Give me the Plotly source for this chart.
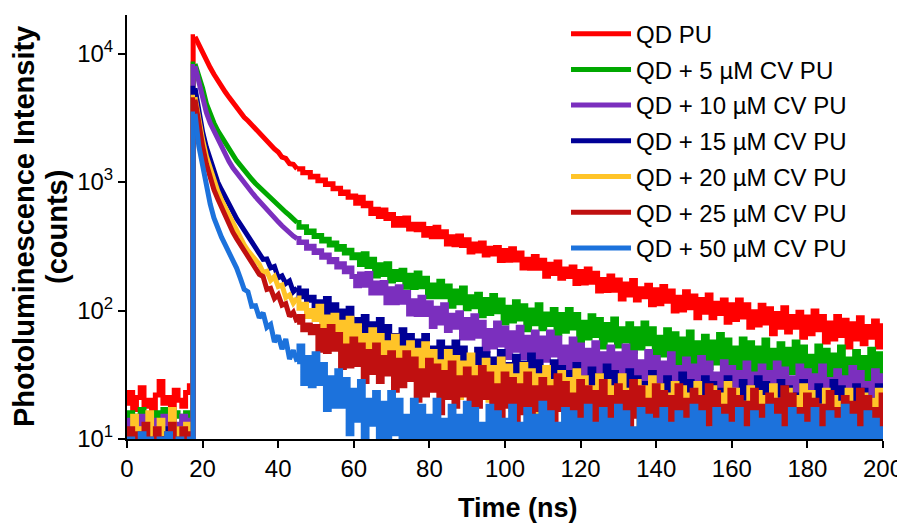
import plotly.graph_objects as go

# ---------------- data ----------------
time_ns = list(range(0, 201))  # 1 ns channels, 0..200 ns

series_names = [
    "QD PU",
    "QD + 5 µM CV PU",
    "QD + 10 µM CV PU",
    "QD + 15 µM CV PU",
    "QD + 20 µM CV PU",
    "QD + 25 µM CV PU",
    "QD + 50 µM CV PU",
]
series_colors = ["#ff0000", "#00a800", "#7b2fbe", "#000096", "#ffc428", "#c01010", "#1c72dc"]

qd_pu = [
    19, 23, 17, 21, 25, 18, 20, 16, 22, 28, 19, 21, 17, 24, 20, 18, 23, 26,
    13500, 11700, 10050, 8700, 7780, 6900, 6120, 5490, 5020, 4560,
    4130, 3750, 3480, 3190, 3000, 2780, 2610, 2390, 2250, 2080,
    1960, 1810, 1710,
    1560, 1525, 1390, 1375, 1265, 1270, 1180, 1185, 1095, 1110,
    1025, 1035, 955, 970, 885, 895, 815, 835, 760, 780,
    685, 760, 655, 685, 570, 615, 540, 605, 520, 560,
    460, 520, 460, 525, 430, 470, 425, 470, 385, 435,
    375, 445, 375, 410, 330, 375, 325, 380, 320, 355,
    285, 330, 290, 335, 270, 305, 275, 310, 245, 293,
    246, 302, 247, 280, 214, 251, 213, 263, 213, 246,
    185, 229, 194, 239, 178, 210, 184, 218, 162, 201,
    164, 210, 166, 195, 142, 174, 143, 186, 144, 173,
    123, 161, 132, 171, 121, 148, 128, 157, 111, 145,
    113, 154, 118, 142, 99, 127, 101, 140, 105, 130,
    88, 122, 97, 132, 88, 114, 95, 121, 81, 111,
    85, 121, 89, 111, 74, 98, 77, 110, 80, 103,
    66, 95, 74, 105, 68, 90, 74, 97, 62, 89,
    66, 99, 71, 90, 57, 80, 60, 90, 64, 84,
    52, 79, 60, 88, 55, 75, 62, 83, 52, 76,
]

cv5 = [
    14, 16, 13, 15, 17, 12, 15, 14, 16, 13, 17, 14, 12, 16, 15, 13, 16, 15,
    8300, 6760, 5370, 4070, 3390, 2880, 2510, 2240, 2000, 1800,
    1620, 1465, 1350, 1230, 1135, 1050, 975, 912, 850, 795,
    740, 700, 660, 617, 582, 550, 513, 484,
    445, 448, 405, 415, 377, 384, 348, 358, 323, 335, 300, 315, 280, 295, 258,
    272, 228, 276, 220, 251, 186, 227, 191, 231, 170,
    201, 174, 206, 152, 188, 151, 196, 153, 178, 128,
    158, 128, 169, 128, 155, 108, 142, 115, 150, 103,
    128, 107, 134, 91, 122, 95, 131, 98, 121, 80,
    106, 83, 117, 86, 109, 71, 101, 79, 111, 72,
    94, 78, 102, 66, 93, 69, 102, 73, 93, 58,
    81, 61, 91, 64, 85, 52, 78, 59, 86, 53,
    72, 58, 79, 48, 72, 51, 80, 55, 72, 42,
    62, 45, 71, 48, 66, 37, 60, 44, 68, 38,
    56, 44, 63, 36, 57, 39, 65, 43, 59, 33,
    51, 36, 60, 39, 56, 30, 51, 37, 59, 32,
    49, 38, 55, 30, 50, 33, 57, 37, 52, 27,
    44, 30, 53, 33, 49, 25, 45, 31, 52, 27,
    42, 32, 48, 25, 43, 28, 50, 32, 46, 23,
]

cv10 = [
    12, 14, 11, 13, 15, 12, 10, 14, 13, 11, 15, 12, 14, 11, 13, 15, 12, 14,
    7940, 6030, 4470, 3470, 2880, 2510, 2090, 1860, 1620, 1445,
    1290, 1175, 1072, 977, 902, 832, 767, 708, 653, 603,
    562, 525, 490, 457, 427, 403, 380, 363,
    338, 342, 305, 316, 283, 292, 260, 270, 240, 250, 218, 231, 200, 214, 184,
    156, 192, 157, 194, 137, 164, 137, 165, 115, 148,
    115, 153, 116, 138, 94, 119, 93, 127, 93, 115,
    75, 104, 80, 111, 70, 92, 74, 96, 61, 85,
    61, 91, 63, 81, 49, 70, 52, 80, 54, 73,
    43, 67, 49, 74, 43, 62, 48, 68, 39, 61,
    41, 68, 45, 61, 33, 52, 36, 60, 38, 54,
    28, 49, 35, 56, 30, 46, 35, 52, 27, 46,
    30, 53, 34, 47, 24, 40, 26, 48, 29, 43,
    21, 39, 26, 46, 22, 36, 27, 42, 20, 37,
    23, 43, 26, 39, 18, 32, 20, 40, 23, 36,
    16, 33, 21, 39, 18, 32, 23, 37, 17, 33,
    20, 39, 23, 35, 16, 30, 18, 37, 21, 34,
    14, 31, 19, 37, 17, 29, 21, 34, 15, 30,
    18, 36, 21, 33, 14, 27, 16, 34, 19, 31,
]

cv15 = [
    11, 10, 12, 9, 11, 10, 12, 11, 9, 10, 12, 10, 11, 9, 12, 10, 11, 10,
    5370, 3550, 2455, 1862, 1479, 1202, 1000, 871, 759, 661,
    582, 519, 468, 422, 380, 343, 313, 285,
    250, 252, 215, 220, 180, 186, 162, 170, 140, 150, 128, 142, 120, 127, 105,
    117, 90, 124, 89, 111, 71, 99, 75, 104, 65,
    85, 69, 90, 55, 79, 56, 85, 59, 75, 44,
    64, 46, 71, 47, 64, 35, 58, 41, 64, 35,
    51, 40, 57, 31, 51, 33, 57, 37, 51, 26,
    43, 29, 50, 31, 46, 23, 42, 28, 48, 24,
    38, 29, 44, 21, 39, 24, 45, 27, 40, 18,
    33, 21, 40, 23, 36, 16, 33, 21, 38, 18,
    30, 22, 35, 16, 31, 18, 37, 21, 33, 14,
    27, 16, 34, 18, 30, 12, 27, 17, 33, 14,
    26, 18, 30, 13, 27, 15, 32, 18, 28, 11,
    23, 13, 30, 16, 27, 10, 24, 14, 30, 12,
    23, 16, 28, 11, 24, 13, 30, 16, 27, 10,
    22, 12, 28, 14, 25, 9, 22, 13, 28, 11,
    22, 15, 26, 10, 23, 12, 28, 15, 25, 9,
    20, 11, 26, 13, 24, 8, 20, 12, 26, 10,
]

cv20 = [
    11, 9, 15, 10, 12, 8, 16, 10, 9, 14, 11, 10, 17, 9, 12, 10, 13, 11,
    4570, 2950, 2140, 1585, 1260, 1023, 851, 724, 631, 550,
    468, 407, 363, 324, 292, 269, 248, 229,
    198, 202, 172, 184, 154, 158, 126, 132, 114, 125, 104, 112, 90, 100, 85,
    108, 68, 89, 71, 92, 57, 81, 57, 87, 60,
    76, 45, 64, 46, 71, 47, 64, 35, 56, 40,
    63, 34, 51, 39, 56, 30, 49, 31, 55, 34,
    48, 25, 40, 27, 48, 29, 43, 21, 39, 26,
    45, 22, 36, 26, 41, 20, 36, 22, 42, 25,
    37, 17, 31, 19, 38, 21, 34, 14, 31, 19,
    36, 16, 28, 20, 33, 14, 29, 16, 34, 19,
    30, 12, 25, 15, 31, 17, 28, 11, 25, 15,
    31, 13, 24, 16, 28, 11, 25, 13, 30, 16,
    26, 10, 22, 12, 27, 14, 25, 9, 22, 13,
    27, 11, 21, 14, 25, 10, 22, 12, 27, 15,
    24, 9, 19, 11, 25, 13, 23, 8, 21, 12,
    26, 10, 20, 13, 24, 9, 21, 11, 26, 13,
    23, 8, 18, 10, 24, 12, 21, 7, 19, 11,
    24, 9, 18, 12, 22, 8, 20, 10, 24, 12,
]

cv25 = [
    10, 12, 9, 11, 8, 13, 10, 9, 12, 10, 8, 11, 13, 9, 10, 12, 9, 11,
    4370, 2750, 1905, 1380, 1072, 871, 741, 631, 537, 468,
    407, 363, 324, 292, 263, 240, 214, 191,
    184, 146, 149, 124, 133, 110, 113, 90, 97, 81, 90, 71, 77, 67, 75,
    49, 70, 48, 75, 50, 65, 36, 53, 37, 60,
    38, 54, 28, 48, 33, 54, 28, 43, 32, 47,
    24, 41, 26, 47, 29, 42, 20, 34, 22, 41,
    24, 37, 16, 33, 21, 39, 18, 30, 22, 35,
    15, 30, 18, 36, 21, 32, 13, 26, 15, 32,
    18, 29, 11, 26, 16, 32, 13, 25, 17, 29,
    12, 25, 14, 31, 17, 27, 10, 22, 12, 28,
    14, 25, 9, 23, 13, 28, 11, 21, 14, 26,
    9, 23, 12, 28, 15, 25, 8, 20, 11, 26,
    13, 23, 7, 21, 12, 26, 9, 20, 13, 24,
    8, 21, 11, 26, 13, 23, 7, 18, 10, 24,
    12, 21, 7, 19, 11, 24, 9, 18, 12, 22,
    7, 20, 10, 25, 12, 22, 7, 17, 9, 22,
    11, 20, 6, 18, 10, 23, 8, 17, 11, 21,
    7, 19, 9, 24, 12, 21, 6, 17, 9, 22,
]

cv50 = [
    9, 10, 8, 9, 11, 8, 10, 9, 8, 10, 9, 11, 8, 9, 10, 8, 9, 10,
    3390, 1905, 1349, 912, 676, 525, 437, 372, 324, 282, 251, 214, 178,
    146, 140, 108, 109, 88, 96, 74, 78, 57, 64, 50, 60, 42, 49, 40,
    53, 27, 43, 26, 46,
    27, 38, 17, 30, 18, 34, 18, 29, 11, 24,
    14, 28, 10, 20, 13, 23, 8, 19, 9, 23,
    11, 20, 5, 15, 7, 20, 9, 18, 4, 15,
    7, 20, 5, 14, 9, 18, 5, 15, 6, 19,
    9, 17, 4, 13, 6, 18, 8, 16, 4, 14,
    7, 18, 5, 13, 8, 17, 4, 15, 6, 19,
    9, 16, 4, 13, 6, 17, 7, 16, 3, 14,
    7, 18, 5, 13, 8, 17, 4, 14, 6, 18,
    8, 16, 4, 12, 6, 17, 7, 15, 3, 14,
    7, 17, 5, 13, 8, 16, 4, 14, 6, 18,
    8, 16, 4, 12, 6, 17, 7, 15, 3, 13,
    7, 17, 5, 12, 8, 16, 4, 14, 6, 18,
    8, 15, 4, 12, 5, 17, 7, 15, 3, 13,
    6, 17, 5, 12, 8, 16, 4, 14, 6, 18,
    8, 15, 4, 12, 5, 16, 7, 14, 3, 12,
]

y_tick_values = [10, 100, 1000, 10000]
y_tick_labels = ["10<sup>1</sup>", "10<sup>2</sup>", "10<sup>3</sup>", "10<sup>4</sup>"]
x_tick_values = list(range(0, 201, 20))

all_series = [qd_pu, cv5, cv10, cv15, cv20, cv25, cv50]

# Each decay is drawn in three pieces of the same array: the pre-pulse
# baseline and rise as channel steps, the smooth early decay as a line, and
# the noisy tail as channel steps (which renders as a dense noisy band).
segments = [(0, 19, "hvh"), (18, 46, "linear"), (45, 201, "hvh")]

# ---------------- figure ----------------
# The page body keeps an 8 px margin, so the plot area is placed 8 px up/left
# inside the figure to land at the reference position in the window.
FONT = "Liberation Sans, Arial, Helvetica, sans-serif"
fig = go.Figure()
for name, vals, col in zip(series_names, all_series, series_colors):
    for k, (a, b, shape) in enumerate(segments):
        fig.add_trace(go.Scatter(
            x=time_ns[a:b], y=vals[a:b], mode="lines", name=name,
            legendgroup=name, showlegend=(k == 0),
            line=dict(color=col, width=5, shape=shape),
        ))

fig.update_layout(
    width=905, height=524,
    margin=dict(l=119, r=30, t=7, b=93, autoexpand=False),
    paper_bgcolor="white", plot_bgcolor="white",
    font=dict(family=FONT, size=24, color="black"),
    showlegend=True,
    legend=dict(
        x=0.5807, y=1.008, xanchor="left", yanchor="top",
        bgcolor="rgba(0,0,0,0)", font=dict(family=FONT, size=24, color="black"),
        tracegroupgap=1.5, itemwidth=60,
    ),
    xaxis=dict(
        range=[0, 200], tickvals=x_tick_values, automargin=False,
        ticks="outside", ticklen=7, tickwidth=1.5, tickcolor="black",
        showline=True, linecolor="black", linewidth=2,
        showgrid=False, zeroline=False,
        tickfont=dict(family=FONT, size=24, color="black"),
    ),
    yaxis=dict(
        type="log", range=[1, 4.30], automargin=False,
        tickvals=y_tick_values, ticktext=y_tick_labels,
        ticks="outside", ticklen=7, tickwidth=1.5, tickcolor="black",
        showline=True, linecolor="black", linewidth=2,
        showgrid=False, zeroline=False,
        tickfont=dict(family=FONT, size=24, color="black"),
    ),
    annotations=[
        dict(text="<b>Time (ns)</b>", xref="paper", yref="paper",
             x=0.517, y=-0.163, xanchor="center", yanchor="middle",
             showarrow=False, font=dict(family=FONT, size=27, color="black")),
        dict(text="<b>Photoluminescence Intensity</b>", xref="paper", yref="paper",
             x=-0.1362, y=0.5, xanchor="center", yanchor="middle", textangle=-90,
             showarrow=False, font=dict(family=FONT, size=29, color="black")),
        dict(text="<b>(counts)</b>", xref="paper", yref="paper",
             x=-0.0926, y=0.5, xanchor="center", yanchor="middle", textangle=-90,
             showarrow=False, font=dict(family=FONT, size=29, color="black")),
    ],
)

fig.write_html("out.html")
